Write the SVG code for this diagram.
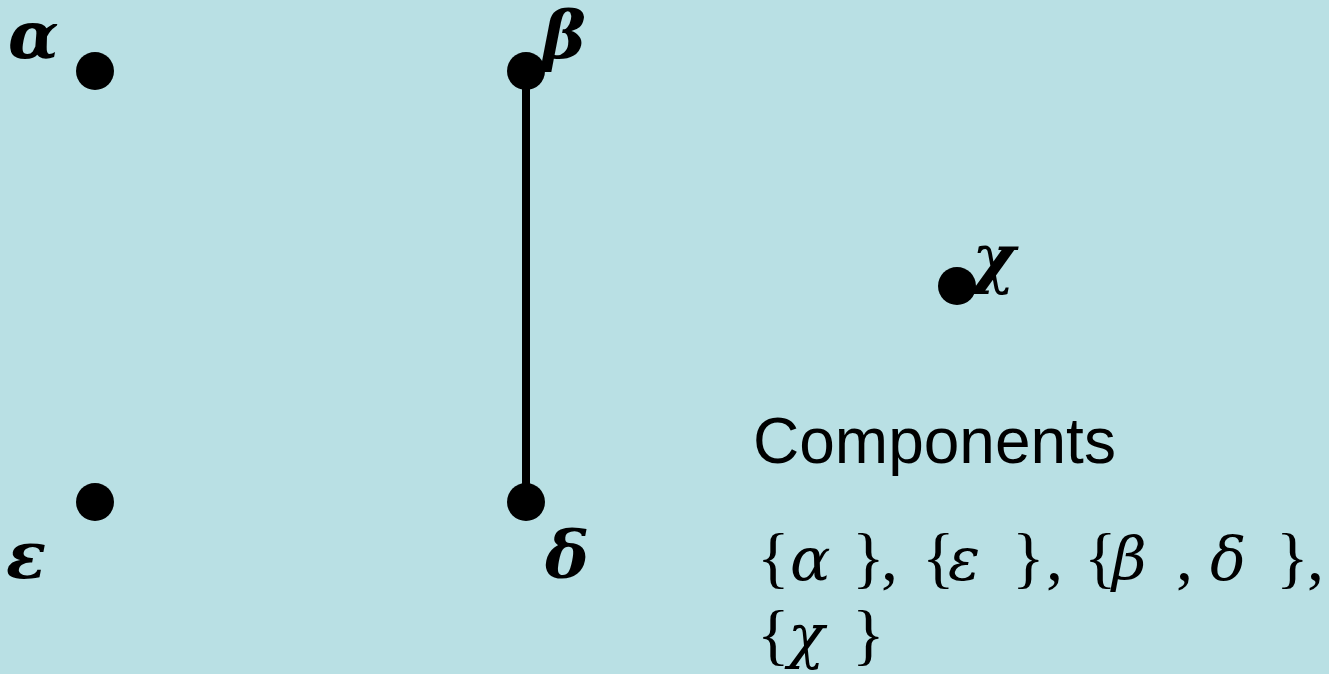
<svg xmlns="http://www.w3.org/2000/svg" width="1329" height="674" viewBox="0 0 1329 674">
<style>
.dot{fill:#000}
.lbl{font-family:"DejaVu Serif","Liberation Serif",serif;font-style:italic;font-weight:bold;font-size:66px;fill:#000}
.head{font-family:"Liberation Sans",Arial,sans-serif;font-size:64px;fill:#000}
.math{font-family:"Liberation Serif","Times New Roman",serif;font-size:68px;fill:#000}
.i{font-family:"DejaVu Serif","Liberation Serif",serif;font-style:italic;font-size:60px}
</style>
<rect width="1329" height="674" fill="#b9e0e4"/>
<g id="connectors">
<line x1="526" y1="71" x2="526" y2="502" stroke="#000" stroke-width="8"/>
</g>
<g id="node-alpha"><circle class="dot" cx="95" cy="71" r="19"/><text class="lbl" x="8" y="58">α</text></g>
<g id="node-beta"><circle class="dot" cx="526" cy="71" r="19"/><text class="lbl" x="542" y="58">β</text></g>
<g id="node-chi"><circle class="dot" cx="957" cy="286" r="19"/><text class="lbl" x="972" y="280">χ</text></g>
<g id="node-epsilon"><circle class="dot" cx="95" cy="502" r="19"/><text class="lbl" x="6" y="578">ε</text></g>
<g id="node-delta"><circle class="dot" cx="526" cy="502" r="19"/><text class="lbl" x="545" y="578">δ</text></g>
<g id="components">
<text class="head" x="753" y="463">Components</text>
<text class="math" y="580"><tspan x="757">{</tspan><tspan class="i" x="790">α</tspan><tspan x="852">}</tspan><tspan x="881">,</tspan><tspan x="922">{</tspan><tspan class="i" x="948">ε</tspan><tspan x="1012">}</tspan><tspan x="1046">,</tspan><tspan x="1084">{</tspan><tspan class="i" x="1112">β</tspan><tspan x="1176">,</tspan><tspan class="i" x="1210">δ</tspan><tspan x="1276">}</tspan><tspan x="1307">,</tspan></text>
<text class="math" y="657"><tspan x="757">{</tspan><tspan class="i" x="788">χ</tspan><tspan x="852">}</tspan></text>
</g>
</svg>
